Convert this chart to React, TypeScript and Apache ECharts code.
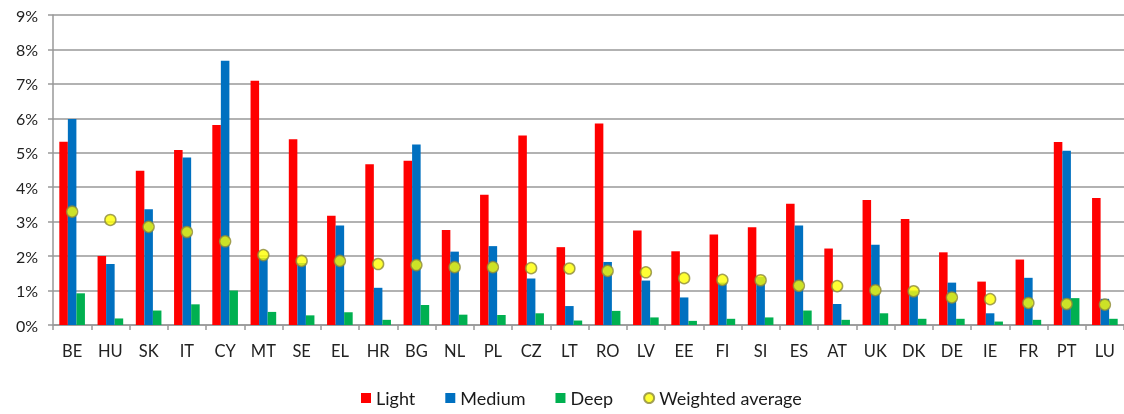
import React, { useEffect, useRef } from "react";
import * as echarts from "echarts";

const categories = ["BE","HU","SK","IT","CY","MT","SE","EL","HR","BG","NL","PL","CZ","LT","RO","LV","EE","FI","SI","ES","AT","UK","DK","DE","IE","FR","PT","LU"];
const light = [5.32,2.0,4.48,5.08,5.81,7.09,5.39,3.17,4.67,4.77,2.76,3.78,5.5,2.26,5.85,2.74,2.14,2.63,2.84,3.52,2.22,3.63,3.08,2.11,1.26,1.9,5.31,3.69];
const medium = [5.98,1.77,3.36,4.86,7.67,1.95,1.8,2.89,1.08,5.24,2.13,2.29,1.35,0.55,1.83,1.29,0.8,1.23,1.4,2.89,0.61,2.33,0.98,1.23,0.34,1.37,5.06,0.76];
const deep = [0.92,0.19,0.42,0.6,1.0,0.38,0.28,0.37,0.15,0.58,0.3,0.29,0.34,0.13,0.41,0.22,0.12,0.18,0.22,0.42,0.15,0.34,0.18,0.18,0.1,0.15,0.78,0.18];
const weighted = [3.29,3.05,2.85,2.7,2.43,2.03,1.86,1.86,1.77,1.74,1.68,1.68,1.65,1.64,1.57,1.53,1.36,1.31,1.3,1.14,1.13,1.01,0.98,0.8,0.75,0.64,0.61,0.59];
const yTicks = { min: 0, max: 9, interval: 1 };

const FONT = "Lato, 'Open Sans', sans-serif";

export default function App() {
  const ref = useRef<HTMLDivElement>(null);
  useEffect(() => {
    if (!ref.current) return;
    const chart = echarts.init(ref.current, undefined, { renderer: "svg" });
    const barBase = { type: "bar" as const, barGap: "0%", barCategoryGap: "33%" };
    chart.setOption({
      animation: false,
      textStyle: { fontFamily: FONT },
      grid: { left: 53, right: -4.5, top: 15, bottom: 89, containLabel: false },
      legend: {
        bottom: 2,
        left: 356,
        itemGap: 30,
        itemWidth: 10,
        itemHeight: 10,
        textStyle: { fontSize: 18, color: "#1a1a1a", fontFamily: FONT },
        data: [
          { name: "Light", icon: "rect" },
          { name: "Medium", icon: "rect" },
          { name: "Deep", icon: "rect" },
          { name: "Weighted average", icon: "circle" },
        ],
      },
      xAxis: {
        type: "category",
        data: categories,
        axisLine: { show: true, lineStyle: { color: "#999", width: 1.5 } },
        axisTick: { show: true, interval: 0, length: 5, lineStyle: { color: "#999", width: 1.5 } },
        axisLabel: { interval: 0, fontSize: 16.5, color: "#222", margin: 17, fontFamily: FONT },
      },
      yAxis: {
        type: "value",
        min: yTicks.min,
        max: yTicks.max,
        interval: yTicks.interval,
        axisLine: { show: true, lineStyle: { color: "#999", width: 1.5 } },
        axisTick: { show: true, length: 5, lineStyle: { color: "#999", width: 1.5 } },
        splitLine: { show: true, lineStyle: { color: "#999", width: 1.5 } },
        axisLabel: { formatter: "{value}%", fontSize: 16, color: "#222", margin: 15, fontFamily: FONT },
      },
      series: [
        { ...barBase, name: "Light", data: light, itemStyle: { color: "#ff0000" } },
        { ...barBase, name: "Medium", data: medium, itemStyle: { color: "#0070c0" } },
        { ...barBase, name: "Deep", data: deep, itemStyle: { color: "#00b050" } },
        {
          type: "scatter",
          name: "Weighted average",
          data: weighted,
          symbol: "circle",
          symbolSize: 11,
          z: 5,
          itemStyle: { color: "#ffff00", borderColor: "#8c8a3a", borderWidth: 1.5 },
        },
      ],
    });
    return () => chart.dispose();
  }, []);
  return <div ref={ref} style={{ position: "fixed", left: 0, top: 0, width: 1124, height: 414 }} />;
}
